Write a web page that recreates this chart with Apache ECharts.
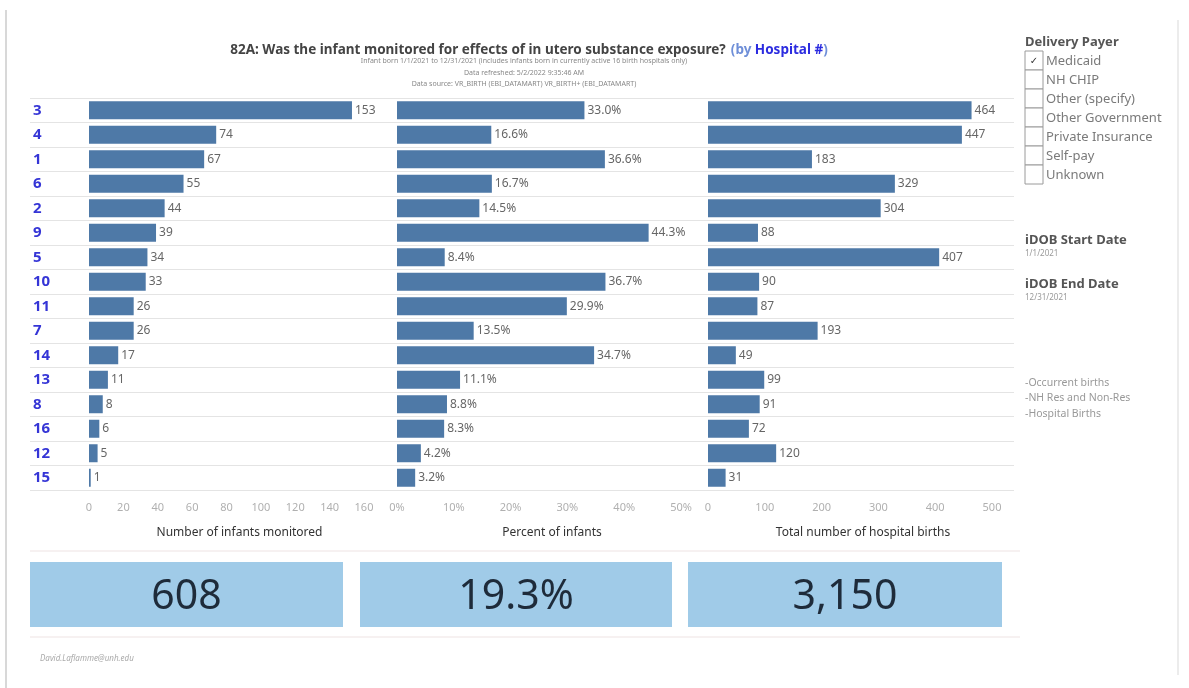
<!DOCTYPE html>
<html>
<head>
<meta charset="utf-8">
<script src="https://cdn.jsdelivr.net/npm/echarts@6/dist/echarts.min.js"></script>
<style>
html,body{margin:0;padding:0;background:#fff;}
#chart{width:1189px;height:688px;}
</style>
</head>
<body>
<div id="chart"></div>
<script>
// ---- data ----
const hospitals = ['3','4','1','6','2','9','5','10','11','7','14','13','8','16','12','15'];
const infantsMonitored = [153,74,67,55,44,39,34,33,26,26,17,11,8,6,5,1];
const percentInfants = [33.0,16.6,36.6,16.7,14.5,44.3,8.4,36.7,29.9,13.5,34.7,11.1,8.8,8.3,4.2,3.2];
const hospitalBirths = [464,447,183,329,304,88,407,90,87,193,49,99,91,72,120,31];
const axisTitles = ['Number of infants monitored','Percent of infants','Total number of hospital births'];
const kpiValues = ['608','19.3%','3,150'];
const payerOptions = ['Medicaid','NH CHIP','Other (specify)','Other Government','Private Insurance','Self-pay','Unknown'];
const payerChecked = [true,false,false,false,false,false,false];
const notes = ['-Occurrent births','-NH Res and Non-Res','-Hospital Births'];

const FONT = 'Noto Sans';
const BAR = '#4e79a7';
const chart = echarts.init(document.getElementById('chart'));

const gridTop = 98, gridH = 392;
const panels = [
  {left: 89, width: 275, max: 160, interval: 20, data: infantsMonitored, fmt: v => String(v), axfmt: v => String(v)},
  {left: 397, width: 284, max: 50, interval: 10, data: percentInfants, fmt: v => v.toFixed(1) + '%', axfmt: v => v + '%'},
  {left: 708, width: 284, max: 500, interval: 100, data: hospitalBirths, fmt: v => String(v), axfmt: v => String(v)}
];

const grids = [], xAxes = [], yAxes = [], series = [];
// background grid for row separators
grids.push({left: 30, width: 984, top: gridTop, height: gridH});
xAxes.push({gridIndex: 0, type: 'value', show: false, min: 0, max: 1});
yAxes.push({gridIndex: 0, type: 'category', data: hospitals, inverse: true,
  axisLine: {show: false}, axisTick: {show: false}, axisLabel: {show: false},
  splitLine: {show: true, lineStyle: {color: '#e4e4e4', width: 1}}});

panels.forEach((p, i) => {
  const gi = i + 1;
  grids.push({left: p.left, width: p.width, top: gridTop, height: gridH});
  xAxes.push({gridIndex: gi, type: 'value', min: 0, max: p.max, interval: p.interval,
    axisLine: {show: false}, axisTick: {show: false}, splitLine: {show: false},
    axisLabel: {color: '#b0b0b0', fontSize: 11, fontFamily: FONT, margin: 12, formatter: p.axfmt},
    name: axisTitles[i], nameLocation: 'middle', nameGap: 37,
    nameTextStyle: {color: '#333', fontSize: 12, fontFamily: FONT, padding: [0, 0, 0, 26]}});
  yAxes.push({gridIndex: gi, type: 'category', data: hospitals, inverse: true,
    axisLine: {show: false}, axisTick: {show: false}, splitLine: {show: false},
    axisLabel: i === 0 ? {show: true, align: 'left', margin: 56, color: '#3535d6', fontWeight: 'bold', fontSize: 15, fontFamily: FONT} : {show: false}});
  series.push({type: 'bar', xAxisIndex: gi, yAxisIndex: gi, data: p.data, barWidth: 18,
    itemStyle: {color: BAR}, silent: true,
    label: {show: true, position: 'right', distance: 3, color: '#666', fontSize: 12, fontFamily: FONT,
      formatter: prm => p.fmt(prm.value)}});
});

const graphics = [];
// frame lines
graphics.push({type: 'line', shape: {x1: 6, y1: 10, x2: 6, y2: 688}, style: {stroke: '#d8d8d8', lineWidth: 2}});
graphics.push({type: 'line', shape: {x1: 1178, y1: 20, x2: 1178, y2: 675}, style: {stroke: '#ececec', lineWidth: 2}});
// separators around KPI row
graphics.push({type: 'line', shape: {x1: 30, y1: 551, x2: 1020, y2: 551}, style: {stroke: '#eee3e3', lineWidth: 1}});
graphics.push({type: 'line', shape: {x1: 30, y1: 637, x2: 1020, y2: 637}, style: {stroke: '#eee3e3', lineWidth: 1}});
// KPI boxes
const kpiBoxes = [[30, 313], [360, 312], [688, 314]];
kpiValues.forEach((v, i) => {
  graphics.push({type: 'rect', shape: {x: kpiBoxes[i][0], y: 562, width: kpiBoxes[i][1], height: 65}, style: {fill: '#a0cbe8'}});
  graphics.push({type: 'text', x: kpiBoxes[i][0] + kpiBoxes[i][1] / 2, y: 597,
    style: {text: v, fill: '#1e2b3a', fontSize: 41, fontFamily: FONT, align: 'center', verticalAlign: 'middle'}});
});
// subtitle lines
const subLines = ['Infant born 1/1/2021 to 12/31/2021 (includes infants born in currently active 16 birth hospitals only)',
  'Data refreshed: 5/2/2022 9:35:46 AM', 'Data source: VR_BIRTH (EBI_DATAMART) VR_BIRTH+ (EBI_DATAMART)'];
[61, 73, 84].forEach((y, i) => graphics.push({type: 'text', x: 524, y: y,
  style: {text: subLines[i], fill: '#888', fontSize: 7, fontFamily: FONT, align: 'center', verticalAlign: 'middle'}}));
// right panel
graphics.push({type: 'text', x: 1025, y: 42, style: {text: 'Delivery Payer', fill: '#555', fontSize: 13, fontWeight: 'bold', fontFamily: FONT, verticalAlign: 'middle'}});
payerOptions.forEach((o, i) => {
  const y = 51 + i * 19;
  graphics.push({type: 'rect', shape: {x: 1025, y: y, width: 18, height: 19}, style: {fill: '#fff', stroke: '#9a9a9a', lineWidth: 1}});
  if (payerChecked[i]) graphics.push({type: 'text', x: 1034, y: y + 10, style: {text: '✓', fill: '#333', fontSize: 10, fontFamily: 'DejaVu Sans', align: 'center', verticalAlign: 'middle'}});
  graphics.push({type: 'text', x: 1046, y: y + 10, style: {text: o, fill: '#7a7a7a', fontSize: 13, fontFamily: FONT, verticalAlign: 'middle'}});
});
graphics.push({type: 'text', x: 1025, y: 240, style: {text: 'iDOB Start Date', fill: '#555', fontSize: 13, fontWeight: 'bold', fontFamily: FONT, verticalAlign: 'middle'}});
graphics.push({type: 'text', x: 1025, y: 254, style: {text: '1/1/2021', fill: '#999', fontSize: 8, fontFamily: FONT, verticalAlign: 'middle'}});
graphics.push({type: 'text', x: 1025, y: 284, style: {text: 'iDOB End Date', fill: '#555', fontSize: 13, fontWeight: 'bold', fontFamily: FONT, verticalAlign: 'middle'}});
graphics.push({type: 'text', x: 1025, y: 298, style: {text: '12/31/2021', fill: '#999', fontSize: 8, fontFamily: FONT, verticalAlign: 'middle'}});
notes.forEach((n, i) => graphics.push({type: 'text', x: 1025, y: 383 + i * 15.5,
  style: {text: n, fill: '#999', fontSize: 10.5, fontFamily: FONT, verticalAlign: 'middle'}}));
// footer
graphics.push({type: 'text', x: 40, y: 659, style: {text: 'David.Laflamme@unh.edu', fill: '#aaa', fontSize: 8, fontStyle: 'italic', fontFamily: FONT, verticalAlign: 'middle'}});

chart.setOption({
  animation: false,
  backgroundColor: '#fff',
  title: {
    left: 524, top: 36, textAlign: 'center',
    text: '{a|82A: Was the infant monitored for effects of in utero substance exposure?} {b|(by }{c|Hospital #}{b|)}',
    textStyle: {rich: {
      a: {fontSize: 13.5, fontWeight: 'bold', color: '#444', fontFamily: FONT},
      b: {fontSize: 13.5, color: '#6f8fd8', fontFamily: FONT},
      c: {fontSize: 13.5, fontWeight: 'bold', color: '#2c2ce0', fontFamily: FONT}
    }}
  },
  grid: grids, xAxis: xAxes, yAxis: yAxes, series: series,
  graphic: graphics
});
</script>
</body>
</html>
